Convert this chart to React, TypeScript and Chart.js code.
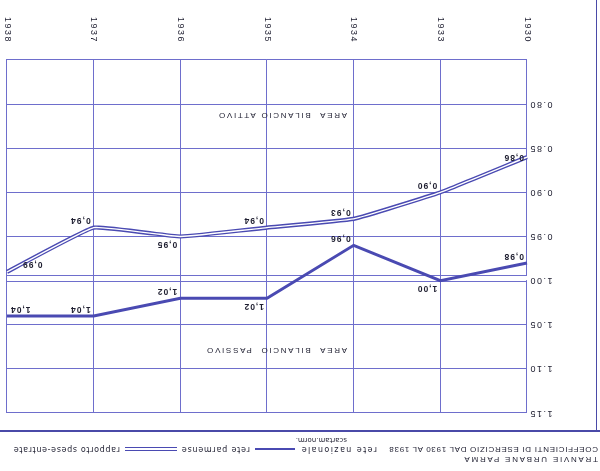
import React, { useEffect, useRef } from "react";
import { Chart, registerables } from "chart.js";

Chart.register(...registerables);

// ---- data ----
const years = ["1930", "1933", "1934", "1935", "1936", "1937", "1938"];
const reteParmense = [0.86, 0.9, 0.93, 0.94, 0.95, 0.94, 0.99];
const reteNazionale = [0.98, 1.0, 0.96, 1.02, 1.02, 1.04, 1.04];
const yMin = 0.75;
const yMax = 1.15;
const yStep = 0.05;
const splitValue = 1.0;

// label placement (style only)
const parmenseLabelSide = ["middle", "below", "below", "below", "above", "below", "below"];
const nazionaleLabelSide = ["below", "above", "below", "above", "below", "below", "below"];

const BLUE = "#4a4ab2";
const GRID = "#6e6ecc";
const INK = "#1e1e30";
const SANS = '"Liberation Sans", Arial, sans-serif';
const DJ = '"DejaVu Sans", sans-serif';

const fmtComma = (v: number) => v.toFixed(2).replace(".", ",");

const overlayPlugin = {
  id: "overlayPlugin",
  beforeDraw(chart: any) {
    chart.ctx.letterSpacing = "1.5px";
  },
  beforeDatasetsDraw(chart: any) {
    const ctx = chart.ctx;
    const { left, right } = chart.chartArea;
    const y = chart.scales.y.getPixelForValue(splitValue);
    ctx.save();
    ctx.fillStyle = "#ffffff";
    ctx.fillRect(left - 1, y + 0.5, 2, 5);
    ctx.strokeStyle = GRID;
    ctx.lineWidth = 1;
    ctx.beginPath();
    ctx.moveTo(left, Math.round(y) - 0.5);
    ctx.lineTo(right, Math.round(y) - 0.5);
    ctx.moveTo(left, Math.round(y) + 5.5);
    ctx.lineTo(right, Math.round(y) + 5.5);
    ctx.stroke();

    // area captions
    const ys = chart.scales.y;
    const tx = left + (right - left) * 0.346;
    ctx.fillStyle = INK;
    ctx.font = `8px ${SANS}`;
    ctx.textAlign = "left";
    ctx.textBaseline = "middle";
    ctx.letterSpacing = "1.7px";
    ctx.fillText("AREA  BILANCIO ATTIVO", tx, ys.getPixelForValue(0.813));
    ctx.fillText("AREA  BILANCIO  PASSIVO", tx, ys.getPixelForValue(1.079));
    ctx.restore();
  },
  afterDatasetsDraw(chart: any) {
    const ctx = chart.ctx;
    ctx.save();
    ctx.fillStyle = INK;
    ctx.font = `bold 8.5px ${SANS}`;
    ctx.letterSpacing = "1px";
    ctx.textBaseline = "middle";
    const draw = (dsIndex: number, values: number[], sides: string[], lastDx: number) => {
      const meta = chart.getDatasetMeta(dsIndex);
      meta.data.forEach((pt: any, i: number) => {
        const last = i === values.length - 1;
        ctx.textAlign = last ? "right" : "left";
        const dx = last ? lastDx : 3;
        const side = sides[i];
        const dy = side === "above" ? -8 : side === "below" ? 7 : 0;
        ctx.fillText(fmtComma(values[i]), pt.x + dx, pt.y + dy);
      });
    };
    draw(1, reteParmense, parmenseLabelSide, -15);
    draw(2, reteNazionale, nazionaleLabelSide, -3);
    ctx.restore();
  },
};

function ChartCanvas() {
  const ref = useRef<HTMLCanvasElement | null>(null);
  useEffect(() => {
    if (!ref.current) return;
    const chart = new Chart(ref.current, {
      type: "line",
      data: {
        labels: years,
        datasets: [
          {
            label: "rete parmense (interno)",
            data: reteParmense,
            borderColor: "#ffffff",
            borderWidth: 1.4,
            pointRadius: 0,
            tension: 0.1,
            order: 0,
          },
          {
            label: "rete parmense",
            data: reteParmense,
            borderColor: BLUE,
            borderWidth: 4.2,
            pointRadius: 0,
            tension: 0.1,
            order: 1,
          },
          {
            label: "rete nazionale",
            data: reteNazionale,
            borderColor: BLUE,
            borderWidth: 3,
            pointRadius: 0,
            tension: 0,
            order: 2,
          },
        ],
      },
      options: {
        responsive: false,
        maintainAspectRatio: false,
        animation: false,
        layout: { padding: { top: 58, right: 7, left: 0, bottom: 0 } },
        plugins: {
          legend: { display: false },
          tooltip: { enabled: false },
          title: { display: false },
        },
        scales: {
          x: {
            offset: false,
            grid: { color: GRID, lineWidth: 1, drawTicks: false },
            border: { color: GRID },
            ticks: {
              color: INK,
              font: { family: SANS, size: 9 },
              minRotation: 90,
              maxRotation: 90,
              autoSkip: false,
              padding: 17,
            },
            afterFit: (s: any) => {
              s.height = 60;
              s.paddingLeft = 0;
              s.paddingRight = 0;
            },
          },
          y: {
            min: yMin,
            max: yMax,
            grid: {
              color: (c: any) =>
                c.tick && Math.abs(c.tick.value - splitValue) < 1e-6 ? "rgba(0,0,0,0)" : GRID,
              lineWidth: 1,
              drawTicks: false,
            },
            border: { color: GRID },
            ticks: {
              stepSize: yStep,
              color: INK,
              font: { family: SANS, size: 9 },
              padding: 2,
              callback: (v: any) => (Math.abs(Number(v) - yMin) < 1e-6 ? "" : Number(v).toFixed(2)),
            },
            afterFit: (s: any) => {
              s.width = 73;
              s.paddingTop = 0;
              s.paddingBottom = 0;
            },
          },
        },
      },
      plugins: [overlayPlugin],
    });
    return () => chart.destroy();
  }, []);
  return (
    <canvas
      ref={ref}
      width={600}
      height={471}
      style={{ position: "absolute", left: 0, top: 0, width: 600, height: 471 }}
    />
  );
}

const txt = (extra: React.CSSProperties): React.CSSProperties => ({
  position: "absolute",
  fontFamily: DJ,
  fontSize: 8,
  lineHeight: "10px",
  color: INK,
  whiteSpace: "nowrap",
  ...extra,
});

export default function App() {
  useEffect(() => {
    document.body.style.margin = "0";
  }, []);
  return (
    <div
      style={{
        position: "fixed",
        left: 0,
        top: 0,
        width: 600,
        height: 471,
        background: "#ffffff",
        transform: "rotate(180deg)",
        overflow: "hidden",
      }}
    >
      <ChartCanvas />
      <div style={txt({ left: 2, top: 6.5, fontFamily: SANS, letterSpacing: "1.75px" })}>
        TRANVIE URBANE PARMA
      </div>
      <div style={txt({ left: 2, top: 16.5, fontFamily: SANS, letterSpacing: "0.7px" })}>
        COEFFICIENTI DI ESERCIZIO DAL 1930 AL 1938
      </div>
      <div style={txt({ left: 223, top: 16.5, letterSpacing: "1.4px" })}>rete nazionale</div>
      <div style={txt({ left: 253, width: 50, top: 25.5, fontSize: 7, textAlign: "right" })}>
        scartam.norm.
      </div>
      <div style={{ position: "absolute", left: 305, top: 20.5, width: 40, height: 2.5, background: BLUE }} />
      <div style={txt({ left: 350, top: 16.5, letterSpacing: "0.8px" })}>rete parmense</div>
      <div
        style={{
          position: "absolute",
          left: 423,
          top: 19.5,
          width: 52,
          height: 4,
          boxSizing: "border-box",
          borderTop: `1.3px solid ${BLUE}`,
          borderBottom: `1.3px solid ${BLUE}`,
        }}
      />
      <div style={txt({ left: 480, top: 16.5, letterSpacing: "0.65px" })}>rapporto spese-entrate</div>
      <div style={{ position: "absolute", left: 0, top: 39, width: 600, height: 1.5, background: "#4a4aa8" }} />
      <div style={{ position: "absolute", left: 2.5, top: 39, width: 1.5, height: 432, background: "#4a4aa8" }} />
    </div>
  );
}
